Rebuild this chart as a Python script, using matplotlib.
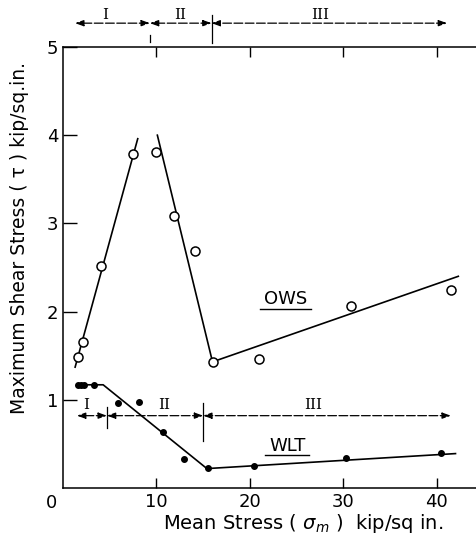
import matplotlib.pyplot as plt

# OWS specimens (open circles) and fitted lines
ows_x = [1.6, 2.1, 4.1, 7.5, 10.0, 11.9, 14.1, 16.0, 21.0, 30.8, 41.5]
ows_y = [1.49, 1.65, 2.52, 3.79, 3.81, 3.08, 2.69, 1.43, 1.46, 2.06, 2.25]
ows_fit1_x = [1.3, 8.0]
ows_fit1_y = [1.37, 3.96]
ows_fit2_x = [10.1, 16.0, 42.3]
ows_fit2_y = [4.0, 1.43, 2.40]

# WLT specimens (filled dots) and fitted line
wlt_x = [1.6, 1.9, 2.2, 3.3, 5.9, 8.15, 10.75, 12.9, 15.5, 20.4, 30.3, 40.4]
wlt_y = [1.17, 1.17, 1.17, 1.17, 0.96, 0.97, 0.64, 0.33, 0.23, 0.25, 0.34, 0.40]
wlt_fit_x = [1.5, 4.3, 15.4, 42.0]
wlt_fit_y = [1.17, 1.17, 0.22, 0.39]

x_ticks = [10, 20, 30, 40]
y_ticks = [1, 2, 3, 4, 5]

# region bands: (label, start, end, label x)
top_regions = [("I", 1.3, 9.3, 4.5), ("II", 9.3, 15.9, 12.5), ("III", 15.9, 41.1, 27.5)]
low_regions = [("I", 1.5, 4.7, 2.5), ("II", 4.7, 15.0, 10.8), ("III", 15.0, 41.5, 26.8)]

fig = plt.figure(figsize=(4.77, 5.45), dpi=100)
ax = fig.add_axes([0.132, 0.1046, 0.868, 0.8092])

ax.plot(ows_fit1_x, ows_fit1_y, color='black', lw=1.2)
ax.plot(ows_fit2_x, ows_fit2_y, color='black', lw=1.2)
ax.plot(ows_x, ows_y, 'o', mfc='white', mec='black', ms=6.5, mew=1.1)

ax.plot(wlt_fit_x, wlt_fit_y, color='black', lw=1.2)
ax.plot(wlt_x, wlt_y, 'o', color='black', ms=4)

ax.text(23.8, 2.14, "OWS", fontsize=13, ha='center', va='center')
ax.plot([21.1, 26.5], [2.03, 2.03], color='black', lw=1)
ax.text(24.0, 0.48, "WLT", fontsize=13, ha='center', va='center')
ax.plot([21.6, 26.3], [0.37, 0.37], color='black', lw=1)

arrow = dict(arrowstyle='<|-|>,head_length=0.5,head_width=0.18', color='black',
             lw=0.9, shrinkA=0, shrinkB=0, linestyle=(0, (7, 2)))

for label, x0, x1, xl in top_regions:
    ax.annotate("", xy=(x0, 5.27), xytext=(x1, 5.27), arrowprops=arrow,
                annotation_clip=False)
    ax.text(xl, 5.36, label, fontsize=11, ha='center', va='center',
            family='DejaVu Serif', clip_on=False)
ax.plot([15.9, 15.9], [5.05, 5.36], color='black', lw=0.9, clip_on=False)
ax.plot([9.3, 9.3], [5.06, 5.14], color='black', lw=0.9, clip_on=False)

for label, x0, x1, xl in low_regions:
    ax.annotate("", xy=(x0, 0.82), xytext=(x1, 0.82), arrowprops=arrow)
    ax.text(xl, 0.94, label, fontsize=11, ha='center', va='center',
            family='DejaVu Serif')
ax.plot([4.7, 4.7], [0.68, 0.92], color='black', lw=0.9)
ax.plot([15.0, 15.0], [0.53, 0.96], color='black', lw=0.9)

ax.set_xlim(0, 44.3)
ax.set_ylim(0, 5)
ax.set_xticks(x_ticks)
ax.set_yticks(y_ticks)
ax.tick_params(direction='in', length=7, width=1, labelsize=13, top=True,
               labeltop=False)
ax.tick_params(axis='y', length=10)
ax.spines['right'].set_visible(False)
for s in ['left', 'bottom', 'top']:
    ax.spines[s].set_linewidth(1.1)

ax.text(-1.2, -0.17, "0", fontsize=13, ha='center', va='center', clip_on=False)

fig.text(0.04, 0.563, "Maximum Shear Stress ( τ ) kip/sq.in.", fontsize=13.5,
         rotation=90, ha='center', va='center')
fig.text(0.635, 0.04, r"Mean Stress ( $\sigma_m$ )  kip/sq in.", fontsize=14,
         ha='center', va='center')

fig.savefig("out.png", dpi=100)
